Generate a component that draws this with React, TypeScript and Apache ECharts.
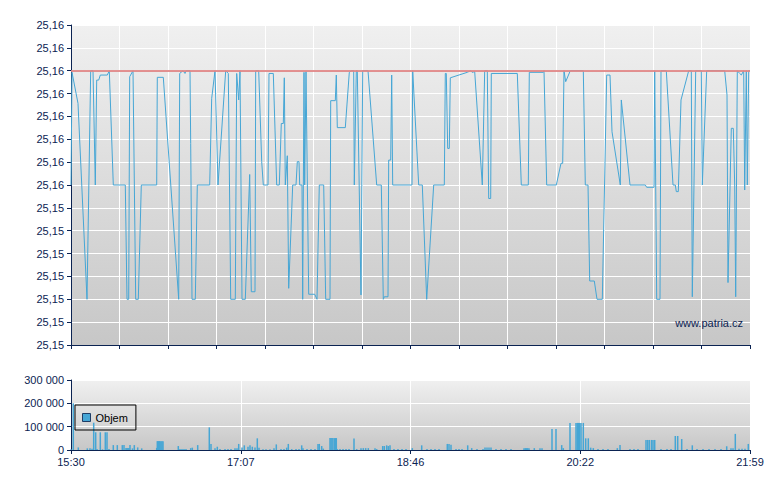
import React, { useEffect, useRef } from "react";
import * as echarts from "echarts";

// Trade sequence position (0..679) and price of each point of the price line
const priceIdx = [0,1,7,16,19.7,22,24.3,25.7,27.7,29.3,36.3,38.3,42.3,54.3,56,57.7,58.7,62,64.7,67.3,70.3,85.7,86.3,92.3,107.7,108.7,112,114,115,119,119.7,121,124.3,126.3,138.7,140.7,144,147,154.7,157.3,159.7,164.3,165.7,167.7,169,171,174.3,178.7,180.3,184,184.7,187.7,190.7,192.3,197,198,202.3,205.7,208.3,210.3,212.3,213.3,214.3,216.3,217.7,221.7,225,226.3,228,228.7,231,231.7,233,233.7,235,237.7,243.7,246,248.3,252.7,254.7,259,259.7,264.3,265.3,266.3,274.3,278.3,280.3,282.7,283.3,285.3,286.3,290,291.7,297,305.7,310.3,312.3,313.3,317,317.7,319.7,320.7,321.7,341,341.7,347.7,351.3,355.7,362.7,373.3,374.3,375.3,376.7,378.3,379.3,396.3,399.7,401,403.7,411.3,413.7,416.3,417.7,419.7,420.3,446.3,450.3,457.3,458.3,472.3,473,475.7,485.3,490,491.7,493,494.7,499.3,512.3,514.3,517,518.7,523.3,526,531.3,535.7,539,541,549.3,550.3,559,574.3,575.7,583,583.7,585.7,589,590,595.3,602,604.3,605.3,607.3,610,617.7,620.3,621.3,624.7,630.3,631.3,635.7,653.7,656,657,660.3,662.3,663.7,664.3,664.7,666.3,668.7,670.3,672.7,673.7,675.3,676.3,677.7,679];
const priceVal = [25.155,25.15993,25.15857,25.150,25.160,25.160,25.155,25.15959,25.15959,25.15981,25.15981,25.160,25.155,25.155,25.150,25.150,25.15974,25.160,25.150,25.150,25.155,25.155,25.15971,25.15971,25.150,25.15988,25.160,25.15988,25.160,25.160,25.15682,25.150,25.150,25.155,25.155,25.15879,25.160,25.155,25.160,25.15988,25.150,25.150,25.15988,25.15872,25.160,25.150,25.150,25.15546,25.15033,25.15033,25.160,25.160,25.15602,25.155,25.155,25.15988,25.15988,25.155,25.155,25.15769,25.15769,25.15969,25.155,25.15628,25.15048,25.155,25.155,25.15602,25.15602,25.155,25.155,25.150,25.15993,25.155,25.15996,25.15022,25.15022,25.150,25.155,25.155,25.150,25.150,25.15869,25.15869,25.15981,25.15751,25.15751,25.15993,25.160,25.160,25.155,25.160,25.160,25.15019,25.160,25.160,25.155,25.155,25.150,25.15011,25.15011,25.15609,25.15609,25.15981,25.155,25.155,25.160,25.155,25.155,25.150,25.155,25.155,25.15988,25.15988,25.1566,25.1566,25.15969,25.15993,25.160,25.15993,25.15996,25.155,25.160,25.160,25.15441,25.15441,25.15988,25.15988,25.155,25.155,25.15993,25.15993,25.160,25.155,25.155,25.15595,25.15595,25.160,25.15952,25.160,25.160,25.155,25.155,25.1508,25.1508,25.150,25.150,25.15981,25.15981,25.15733,25.155,25.15872,25.155,25.155,25.1549,25.1549,25.160,25.150,25.150,25.160,25.160,25.155,25.155,25.15471,25.15471,25.15872,25.160,25.160,25.15011,25.160,25.160,25.155,25.160,25.160,25.15894,25.15073,25.15748,25.15748,25.155,25.155,25.15011,25.160,25.15988,25.15981,25.160,25.15478,25.160,25.155,25.160,25.160];

// Volume bars: position in trade sequence and volume ("Objem")
const volumeIdx = [0,2.3,7.3,16.3,19,21,22.7,24.7,26,29.3,31.5,34.3,36,38,42.3,46.3,51.3,53,55,56,57,58,59,61.5,63.3,66.7,70.7,85.7,86.3,87.3,88.3,89,90,91,92,107.3,109,111,113,115,119.7,121.3,126.7,138.3,140,144,146.3,149,154,157,160,164,166,167.7,171,173.3,177,179,181.3,184,186.3,188,192,195,199,203,205.3,210,213,215.7,217.3,220.7,225,228,230.7,232,236,240,244,247,248.3,250.7,252.3,259,260,261,262,263.7,264.7,265.3,266.3,269,272,275,278,283,285.7,290,292.3,294.7,297.3,304,305.7,311.7,313.3,315.7,317.3,319,323,327,331,335,341.3,350.7,356,360,364,368,376.3,378,380,385,388,391,396.7,400.7,406,412,414,416,418,420,425,430,435,440,453,454.3,455.5,456.7,458,463.3,469,471,481,485,490.7,492.3,499,505,506.3,507.5,508.7,510,512.3,514.7,517.3,519.7,522.3,527,532,537,546.3,549,559,563,567,575,576.7,578.3,580.5,582,583.7,590,596,600,604.3,606.7,610.7,616,621.3,626,632,638,644,650,655.7,660,662,664.3,668,671,674,677.3];
const volumeVal = [3000,200000,11000,7000,7000,5000,117000,76000,4000,76000,3000,76000,76000,4000,21000,21000,21000,21000,9000,9000,9000,9000,21000,7000,21000,11000,7000,9000,38000,38000,38000,38000,38000,38000,38000,17000,4000,4000,4000,4000,8000,10000,21000,97000,26000,7000,14000,4000,4000,4000,4000,7000,7000,26000,11000,20000,14000,20000,14000,11000,50000,10000,3000,3000,3000,7000,24000,4000,4000,10000,26000,4000,4000,4000,20000,7000,4000,4000,4000,26000,26000,17000,6000,51000,51000,51000,51000,51000,51000,51000,4000,4000,4000,4000,4000,49000,4000,7000,8000,8000,8000,8000,4000,17000,17000,20000,17000,20000,4000,4000,4000,4000,8000,20000,4000,4000,4000,4000,26000,26000,23000,4000,4000,4000,20000,8000,4000,4000,11000,11000,11000,11000,4000,4000,4000,4000,8000,8000,8000,8000,8000,8000,8000,8000,90000,90000,21000,8000,116000,116000,116000,116000,116000,116000,116000,50000,50000,10000,8000,4000,4000,4000,8000,21000,4000,4000,4000,43000,43000,43000,43000,43000,43000,4000,4000,4000,60000,60000,47000,4000,20000,4000,4000,4000,4000,4000,16000,8000,8000,69000,5000,5000,5000,26000];

const yTickLabels = ["25,15","25,15","25,15","25,15","25,15","25,15","25,15","25,16","25,16","25,16","25,16","25,16","25,16","25,16","25,16"];
const xTickLabels = ["15:30", "17:07", "18:46", "20:22", "21:59"];
const volumeTickLabels = ["0", "100 000", "200 000", "300 000"];
const referencePrice = 25.16;

const seqMax = 679;
const yMin = 25.148;
const yMax = 25.162;
const yStep = 0.001;
const volStep = 100000;

export default function App() {
  const ref = useRef<HTMLDivElement>(null);
  useEffect(() => {
    document.body.style.margin = "0";
    if (!ref.current) return;
    const chart = echarts.init(ref.current, null, { renderer: "svg" });
    const font = "'Liberation Sans', Arial, sans-serif";
    const navy = "#0B2352";
    const lineBlue = "#46A6D5";
    const n = Math.min(priceIdx.length, priceVal.length);
    const priceData = [];
    for (let i = 0; i < n; i++) priceData.push([priceIdx[i], priceVal[i]]);
    const m = Math.min(volumeIdx.length, volumeVal.length);
    const volData = [];
    for (let i = 0; i < m; i++) volData.push([volumeIdx[i], volumeVal[i]]);

    const grad = () =>
      new echarts.graphic.LinearGradient(0, 0, 0, 1, [
        { offset: 0, color: "#F0F0F0" },
        { offset: 1, color: "#C7C7C7" },
      ]);

    const axisLine = { show: true, onZero: false, lineStyle: { color: navy, width: 1 } };
    const axisTick = { show: true, length: 4, lineStyle: { color: navy } };
    const split = { show: true, lineStyle: { color: "#FFFFFF", width: 1 } };

    chart.setOption({
      animation: false,
      textStyle: { fontFamily: font },
      grid: [
        { left: 71, right: 30, top: 25, height: 320, show: true, backgroundColor: grad(), borderWidth: 0 },
        { left: 71, right: 30, top: 380, height: 70, show: true, backgroundColor: grad(), borderWidth: 0 },
      ],
      legend: {
        data: ["Objem"],
        left: 75,
        top: 405,
        padding: [7, 8, 7, 7],
        itemWidth: 8,
        itemHeight: 8,
        icon: "rect",
        borderColor: "#000000",
        borderWidth: 1,
        itemStyle: { color: lineBlue, borderColor: "#1F3D66", borderWidth: 1 },
        textStyle: { color: "#000000", fontSize: 11, fontFamily: font },
      },
      xAxis: [
        {
          type: "value", gridIndex: 0, min: 0, max: seqMax, interval: seqMax / 14,
          axisLine, axisTick, axisLabel: { show: false }, splitLine: split,
        },
        {
          type: "value", gridIndex: 1, min: 0, max: seqMax, interval: seqMax / 4,
          axisLine, axisTick,
          axisLabel: {
            color: navy, fontSize: 11, margin: 6, fontFamily: font,
            formatter: (v: number) => xTickLabels[Math.round(v / (seqMax / 4))] ?? "",
          },
          splitLine: split,
        },
      ],
      yAxis: [
        {
          type: "value", gridIndex: 0, min: yMin, max: yMax, interval: yStep,
          axisLine, axisTick, splitLine: split,
          axisLabel: {
            color: navy, fontSize: 11, margin: 7, fontFamily: font,
            formatter: (v: number) => yTickLabels[Math.round((v - yMin) / yStep)] ?? "",
          },
        },
        {
          type: "value", gridIndex: 1, min: 0, max: 300000, interval: volStep,
          axisLine, axisTick, splitLine: split,
          axisLabel: {
            color: navy, fontSize: 11, margin: 7, fontFamily: font,
            formatter: (v: number) => volumeTickLabels[Math.round(v / volStep)] ?? "",
          },
        },
      ],
      series: [
        {
          name: "Cena",
          type: "line",
          xAxisIndex: 0,
          yAxisIndex: 0,
          data: priceData,
          showSymbol: false,
          symbol: "none",
          lineStyle: { color: lineBlue, width: 1 },
          z: 2,
          markLine: {
            silent: true,
            symbol: "none",
            label: { show: false },
            lineStyle: { color: "#E08585", width: 2, type: "solid", opacity: 0.9 },
            data: [{ yAxis: referencePrice }],
            z: 3,
          },
        },
        {
          name: "Objem",
          type: "bar",
          xAxisIndex: 1,
          yAxisIndex: 1,
          data: volData,
          barWidth: 1.5,
          itemStyle: { color: lineBlue },
        },
      ],
      graphic: [
        {
          type: "text",
          right: 37,
          top: 317,
          style: { text: "www.patria.cz", fill: navy, font: `11px ${font}` },
          z: 10,
        },
      ],
    });
    return () => chart.dispose();
  }, []);
  return <div ref={ref} style={{ width: 780, height: 490 }} />;
}
